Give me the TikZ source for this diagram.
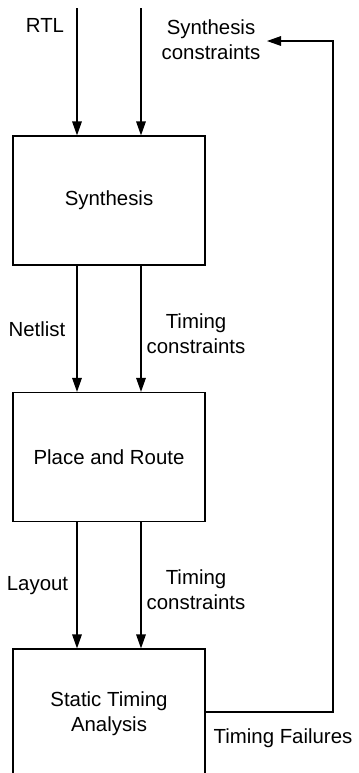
\documentclass[tikz,border=0pt]{standalone}
\usepackage{fontspec}
\setmainfont{Liberation Sans}
\usetikzlibrary{arrows.meta,positioning}

\begin{document}
\begin{tikzpicture}[x=0.5pt,y=-0.5pt,font=\fontsize{10.2}{12.5}\selectfont,
  stage/.style={draw,line width=0.6pt,minimum width=96pt,minimum height=64.5pt,inner sep=0pt,align=center},
  flow/.style={line width=0.6pt,-{Triangle[length=7pt,width=4.8pt]}},
  lbl/.style={align=center,inner sep=0pt}]
  \clip (0,0) rectangle (359,773);
  % tool stages
  \node[stage] (syn) at (109,200.5) {Synthesis};
  \node[stage] (pnr) at (109,457) {Place and Route};
  \node[stage] (sta) at (109,713.5) {Static Timing\\Analysis};
  % input arrows
  \coordinate (rtlin) at (77,8);
  \coordinate (scin) at (141,8);
  \draw[flow] (rtlin) -- (rtlin |- syn.north);
  \draw[flow] (scin) -- (scin |- syn.north);
  \draw[flow] (syn.south -| rtlin) -- (pnr.north -| rtlin);
  \draw[flow] (syn.south -| scin) -- (pnr.north -| scin);
  \draw[flow] (pnr.south -| rtlin) -- (sta.north -| rtlin);
  \draw[flow] (pnr.south -| scin) -- (sta.north -| scin);
  % feedback loop
  \coordinate (fbturn) at (333,712);
  \coordinate (fbtop) at (333,41);
  \coordinate (sctip) at (267,41);
  \draw[flow] (sta.east |- fbturn) -- (fbturn) -- (fbtop) -- (sctip);
  % labels
  \node[lbl] (rtl) at (45,25) {RTL};
  \node[lbl] (sync) at (211,40) {Synthesis\\constraints};
  \node[lbl] (netlist) at (37,329) {Netlist};
  \node[lbl] (tc1) at (196,334) {Timing\\constraints};
  \node[lbl] (layout) at (37.5,586) {Layout};
  \node[lbl] (tc2) at (196,590) {Timing\\constraints};
  \node[lbl] (tfail) at (283,738) {Timing Failures};
\end{tikzpicture}
\end{document}
